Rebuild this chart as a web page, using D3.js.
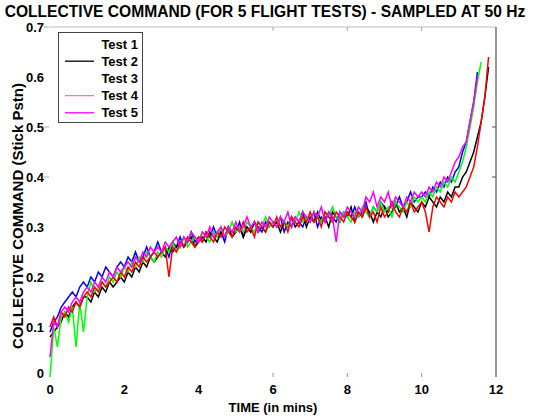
<!DOCTYPE html>
<html><head><meta charset="utf-8">
<script src="https://cdn.jsdelivr.net/npm/d3@7"></script>
<style>body{margin:0;background:#fff}svg{display:block}text{font-family:"Liberation Sans",Arial,sans-serif;font-weight:bold}</style>
</head><body><div id="c"></div>
<script>
const titleText = "COLLECTIVE COMMAND (FOR 5 FLIGHT TESTS) - SAMPLED AT 50 Hz";
const xLabel = "TIME (in mins)";
const yLabel = "COLLECTIVE COMMAND (Stick Pstn)";
const xTicks = [0,2,4,6,8,10,12];
const yTicks = [0,0.1,0.2,0.3,0.4,0.5,0.6,0.7];
const yTickLabels = ["0","0.1","0.2","0.3","0.4","0.5","0.6","0.7"];
const seriesNames = ["Test 1","Test 2","Test 3","Test 4","Test 5"];
const seriesColors = ["#0000ff","#000000","#00ff00","#ff0000","#ff00ff"];
const legendColors = ["#ffffff","#000000","#ffffff","#ff8080","#ff00ff"];
const sampleStepMin = 0.1; // one value per 0.1 min

const test1 = [0.09,0.11,0.12,0.14,0.15,0.16,0.17,0.16,0.18,0.19,
0.18,0.20,0.19,0.21,0.20,0.22,0.21,0.20,0.22,0.23,
0.22,0.24,0.23,0.25,0.23,0.24,0.26,0.24,0.25,0.27,
0.25,0.26,0.24,0.27,0.26,0.28,0.26,0.27,0.29,0.27,
0.28,0.27,0.29,0.28,0.30,0.28,0.29,0.27,0.30,0.29,
0.29,0.31,0.28,0.30,0.29,0.31,0.30,0.29,0.31,0.30,
0.31,0.30,0.32,0.29,0.31,0.30,0.32,0.31,0.30,0.32,
0.31,0.33,0.30,0.32,0.31,0.33,0.32,0.31,0.33,0.32,
0.33,0.32,0.34,0.32,0.33,0.35,0.32,0.34,0.33,0.35,
0.34,0.33,0.35,0.34,0.36,0.34,0.35,0.37,0.35,0.36,
0.36,0.37,0.36,0.38,0.37,0.39,0.38,0.40,0.39,0.41,
0.42,0.45,0.47,0.51,0.55,0.61];
const test2 = [0.08,0.09,0.10,0.11,0.13,0.12,0.14,0.15,0.14,0.16,
0.16,0.15,0.17,0.16,0.18,0.17,0.19,0.18,0.19,0.20,
0.19,0.21,0.20,0.22,0.21,0.23,0.22,0.24,0.23,0.24,
0.25,0.24,0.26,0.25,0.26,0.27,0.26,0.27,0.28,0.26,
0.27,0.28,0.27,0.29,0.28,0.27,0.29,0.28,0.30,0.28,
0.29,0.30,0.28,0.30,0.29,0.31,0.29,0.30,0.29,0.31,
0.30,0.31,0.29,0.31,0.30,0.32,0.30,0.31,0.33,0.30,
0.32,0.31,0.33,0.31,0.32,0.30,0.33,0.32,0.31,0.33,
0.32,0.34,0.31,0.33,0.32,0.34,0.33,0.31,0.33,0.32,
0.34,0.32,0.33,0.35,0.33,0.34,0.32,0.35,0.34,0.33,
0.35,0.34,0.36,0.35,0.34,0.36,0.35,0.37,0.36,0.38,
0.38,0.40,0.41,0.43,0.45,0.48,0.51,0.56,0.62];
const test3 = [0.00,0.10,0.06,0.12,0.13,0.11,0.14,0.06,0.15,0.09,
0.16,0.19,0.17,0.18,0.19,0.18,0.20,0.19,0.21,0.20,
0.22,0.21,0.23,0.22,0.24,0.23,0.25,0.24,0.23,0.25,
0.24,0.26,0.25,0.27,0.25,0.26,0.28,0.26,0.27,0.28,
0.27,0.29,0.28,0.27,0.29,0.28,0.30,0.28,0.29,0.31,
0.29,0.30,0.29,0.31,0.30,0.29,0.31,0.30,0.32,0.30,
0.31,0.30,0.32,0.31,0.30,0.32,0.31,0.33,0.31,0.32,
0.31,0.33,0.32,0.31,0.33,0.32,0.34,0.32,0.31,0.33,
0.32,0.31,0.33,0.32,0.34,0.33,0.32,0.34,0.33,0.35,
0.33,0.34,0.32,0.35,0.34,0.33,0.35,0.34,0.36,0.35,
0.36,0.35,0.37,0.36,0.38,0.37,0.39,0.38,0.40,0.39,
0.41,0.43,0.46,0.50,0.54,0.59,0.63];
const test4 = [0.10,0.12,0.10,0.13,0.12,0.14,0.13,0.15,0.14,0.16,
0.17,0.16,0.18,0.17,0.19,0.18,0.19,0.20,0.19,0.21,
0.20,0.22,0.21,0.23,0.22,0.24,0.23,0.24,0.25,0.24,
0.25,0.26,0.20,0.26,0.25,0.27,0.26,0.28,0.27,0.26,
0.28,0.27,0.29,0.28,0.27,0.29,0.28,0.30,0.29,0.28,
0.30,0.29,0.31,0.29,0.30,0.28,0.31,0.30,0.29,0.31,
0.30,0.32,0.30,0.31,0.29,0.32,0.31,0.30,0.32,0.31,
0.33,0.31,0.32,0.30,0.33,0.32,0.31,0.33,0.32,0.31,
0.33,0.32,0.31,0.33,0.32,0.34,0.32,0.33,0.31,0.34,
0.32,0.33,0.35,0.33,0.32,0.34,0.33,0.35,0.33,0.34,
0.35,0.33,0.29,0.34,0.36,0.35,0.34,0.36,0.35,0.37,
0.36,0.37,0.38,0.40,0.42,0.46,0.51,0.56,0.64];
const test5 = [0.04,0.11,0.10,0.13,0.14,0.13,0.15,0.16,0.15,0.17,
0.18,0.17,0.19,0.18,0.20,0.19,0.21,0.20,0.22,0.21,
0.22,0.23,0.22,0.24,0.23,0.25,0.24,0.26,0.25,0.26,
0.25,0.27,0.26,0.27,0.28,0.26,0.28,0.27,0.29,0.28,
0.27,0.29,0.28,0.30,0.28,0.29,0.30,0.28,0.30,0.29,
0.31,0.29,0.30,0.32,0.30,0.31,0.29,0.31,0.30,0.32,
0.31,0.30,0.32,0.31,0.33,0.30,0.32,0.31,0.33,0.32,
0.31,0.33,0.32,0.34,0.31,0.33,0.32,0.27,0.33,0.32,
0.34,0.33,0.32,0.34,0.33,0.36,0.35,0.37,0.34,0.36,
0.35,0.37,0.34,0.36,0.35,0.34,0.36,0.35,0.37,0.36,
0.37,0.36,0.38,0.37,0.39,0.38,0.40,0.39,0.41,0.43,
0.44,0.46,0.47,0.51,0.55,0.60];
const seriesValues = [test1,test2,test3,test4,test5];

const W = 538, H = 420;
const m = {left:50, right:42, top:27, bottom:43};
const svg = d3.select("#c").append("svg").attr("width",W).attr("height",H);
const x = d3.scaleLinear().domain([0,12]).range([m.left, W-m.right]);
const y = d3.scaleLinear().domain([0,0.7]).range([H-m.bottom, m.top]);

// frame pieces
svg.append("line").attr("x1",x(0)).attr("x2",x(12)).attr("y1",y(0.7)).attr("y2",y(0.7)).attr("stroke","#bdbdbd");
svg.append("line").attr("x1",x(12)).attr("x2",x(12)).attr("y1",y(0.7)).attr("y2",y(0)).attr("stroke","#555").attr("stroke-width",1.2);

// ticks
const leftTicksShown = [0.7,0.5,0.4];
leftTicksShown.forEach(v=>svg.append("line").attr("x1",x(0)-6).attr("x2",x(0)-1).attr("y1",y(v)).attr("y2",y(v)).attr("stroke","#aaa"));
[0.5,0.4].forEach(v=>svg.append("line").attr("x1",x(12)-4).attr("x2",x(12)).attr("y1",y(v)).attr("y2",y(v)).attr("stroke","#555"));
[6,8,10,12].forEach(v=>svg.append("line").attr("x1",x(v)).attr("x2",x(v)).attr("y1",y(0)-4).attr("y2",y(0)).attr("stroke","#999"));
[6,8,10].forEach(v=>svg.append("line").attr("x1",x(v)).attr("x2",x(v)).attr("y1",y(0.7)).attr("y2",y(0.7)+4).attr("stroke","#aaa"));

// tick labels
svg.append("g").selectAll("text").data(xTicks).join("text")
  .attr("x",d=>x(d)).attr("y",H-m.bottom+17).attr("text-anchor","middle")
  .attr("font-size",13).text(d=>d);
svg.append("g").selectAll("text").data(yTicks).join("text")
  .attr("x",m.left-6).attr("y",(d,i)=>y(d)+4.5-(i===0?4:0)).attr("text-anchor","end")
  .attr("font-size",13).text((d,i)=>yTickLabels[i]);

// lines
const line = d3.line().x((d,i)=>x(i*sampleStepMin)).y(d=>y(d));
seriesValues.forEach((vals,k)=>{
  svg.append("path").datum(vals).attr("d",line).attr("fill","none")
    .attr("stroke",seriesColors[k]).attr("stroke-width",1.5).attr("stroke-linejoin","miter");
});

// title and labels
svg.append("text").attr("x",265).attr("y",17).attr("text-anchor","middle").attr("font-size",15.6).text(titleText);
svg.append("text").attr("x",x(6)).attr("y",H-8).attr("text-anchor","middle").attr("font-size",13).text(xLabel);
svg.append("text").attr("transform",`translate(23,216) rotate(-90)`).attr("text-anchor","middle").attr("font-size",15).text(yLabel);

// legend
const lg = svg.append("g");
lg.append("rect").attr("x",58.5).attr("y",32.5).attr("width",84).attr("height",90).attr("fill","#fff").attr("stroke","#444");
seriesNames.forEach((n,i)=>{
  const yy = 44 + i*17.2;
  lg.append("line").attr("x1",65).attr("x2",94).attr("y1",yy).attr("y2",yy).attr("stroke",legendColors[i]).attr("stroke-width",1.3);
  lg.append("text").attr("x",138).attr("y",yy+4.5).attr("text-anchor","end").attr("font-size",13).text(n);
});
</script></body></html>
